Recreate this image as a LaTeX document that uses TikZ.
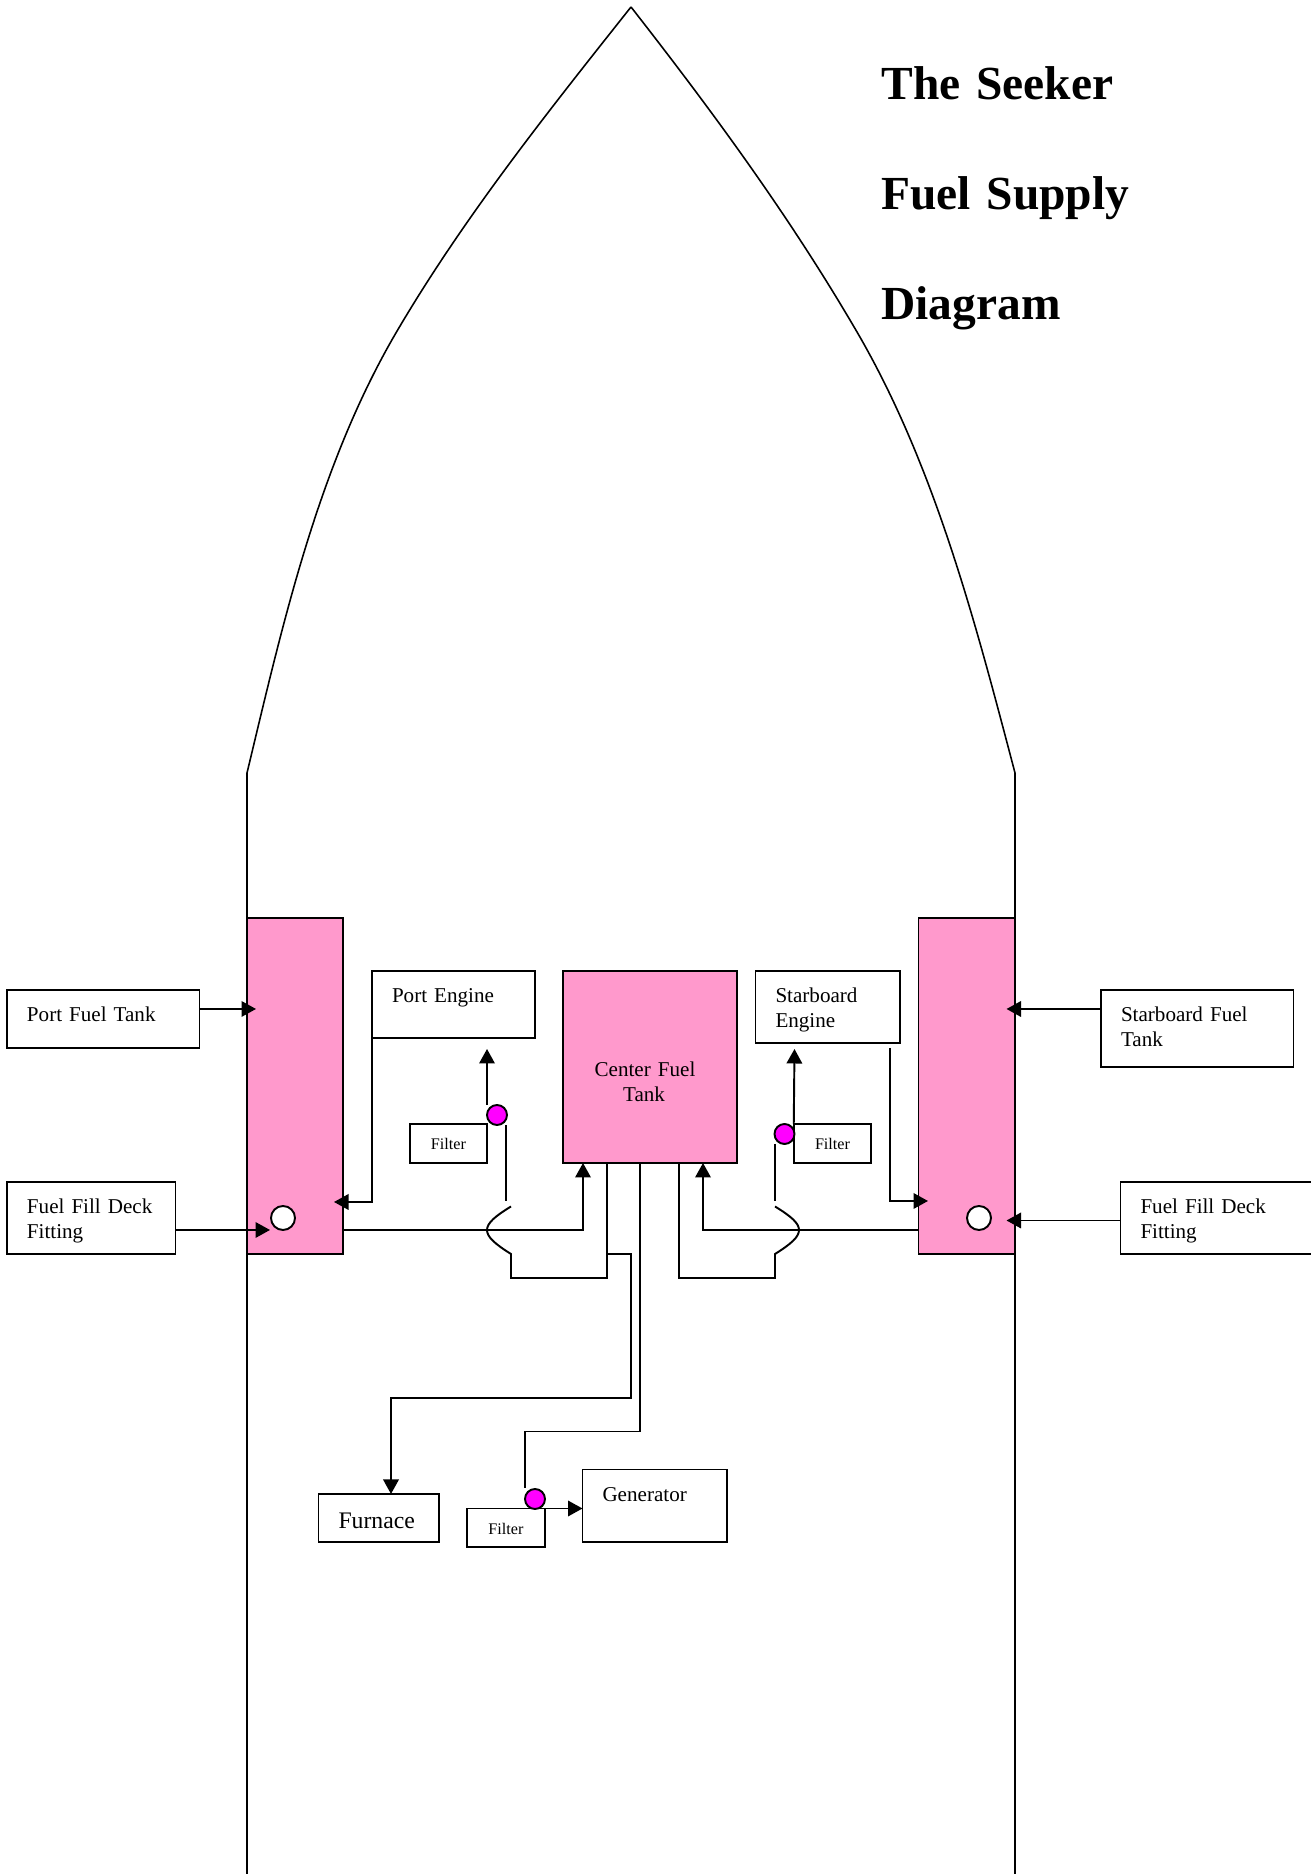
\documentclass[tikz,border=0pt]{standalone}
\usepackage{fontspec}
\setmainfont{Liberation Serif}
\usetikzlibrary{arrows.meta}
\definecolor{tankpink}{HTML}{FF99CC}
\definecolor{valvemagenta}{HTML}{FF00FF}
\tikzset{
	fuelline/.style={line width=1.1pt, >={Triangle[length=.29cm, width=.31cm]}},
	tagbox/.style={draw, fill=white, line width=1.1pt, outer sep=0, inner ysep=0, inner xsep=.4cm, anchor=base west, align=left, font=\fontsize{12}{14.2}\selectfont},
	filterbox/.style={draw, fill=white, line width=1.1pt, outer sep=0, inner sep=0, anchor=base, align=center, text width=1.55cm, text height=.52cm, text depth=.26cm, font=\fontsize{9.2}{11}\selectfont},
	tank/.style={draw, fill=tankpink, line width=1.1pt, outer sep=0, inner sep=0, minimum width=1.92cm, minimum height=6.72cm},
	valve/.style={circle, draw, fill=valvemagenta, line width=1.1pt, inner sep=0, minimum size=.4cm},
	fillcap/.style={circle, draw, fill=white, line width=1.1pt, inner sep=0, minimum size=.48cm}
}
\begin{document}
\begin{tikzpicture}
	\useasboundingbox (0, 0) rectangle (26.22, 37.48);

	\draw[line width=.9pt] (4.94, 0) -- (4.94, 22.02) .. controls (5.66, 25.02) and (6.36, 28.16) .. (7.93, 30.84) .. controls (9.28, 33.14) and (10.97, 35.26) .. (12.62, 37.34);
	\draw[line width=.9pt] (20.3, 0) -- (20.3, 22.02) .. controls (19.51, 25.02) and (18.7, 28.16) .. (17.14, 30.84) .. controls (15.8, 33.14) and (14.26, 35.24) .. (12.62, 37.34);

	\node[anchor=base west, inner sep=0, align=left, text width=8cm, font=\fontsize{27}{62.6}\selectfont\bfseries] (title) at (17.62, 35.48) {The Seeker\\Fuel Supply\\Diagram};

	\node[tank] (porttank) at (5.9, 15.76) {};
	\node[tank, minimum width=1.93cm] (starboardtank) at (19.335, 15.76) {};
	\node[draw, fill=tankpink, line width=1.1pt, outer sep=0, inner sep=0, anchor=base, align=center, text width=3.47cm, text height=2.12cm, text depth=1.72cm, font=\fontsize{12}{14.2}\selectfont] (centertank) at (13, 15.94) {Center Fuel\rule{.2cm}{0pt}\\Tank\rule{.24cm}{0pt}};

	\node[tagbox, text width=3.05cm, text height=.64cm, text depth=.52cm] (portfuel) at (.14, 17.04) {Port Fuel Tank};
	\node[tagbox, text width=2.57cm, text height=.64cm, text depth=.8cm] (portfill) at (.14, 13.2) {Fuel Fill Deck\\Fitting};
	\node[tagbox, text width=2.46cm, text height=.64cm, text depth=.7cm] (portengine) at (7.44, 17.42) {Port Engine};
	\node[tagbox, text width=2.09cm, text height=.64cm, text depth=.8cm] (starboardengine) at (15.11, 17.42) {Starboard\\Engine};
	\node[tagbox, text width=3.05cm, text height=.64cm, text depth=.9cm] (starboardfuel) at (22.02, 17.04) {Starboard Fuel\\Tank};
	\node[tagbox, text width=3.2cm, text height=.64cm, text depth=.8cm] (starboardfill) at (22.41, 13.2) {Fuel Fill Deck\\Fitting};
	\node[tagbox, text width=1.61cm, text height=.7cm, text depth=.26cm, font=\fontsize{13.5}{16}\selectfont] (furnace) at (6.37, 6.9) {Furnace};
	\node[tagbox, text width=2.09cm, text height=.64cm, text depth=.81cm] (generator) at (11.65, 7.45) {Generator};

	\node[filterbox] (portfilter) at (8.97, 14.48) {Filter};
	\node[filterbox] (starboardfilter) at (16.65, 14.48) {Filter};
	\node[filterbox, text height=.53cm, text depth=.24cm] (generatorfilter) at (10.12, 6.78) {Filter};

	\coordinate (porttanktip) at (5.12, 17.3);
	\coordinate (portfilltip) at (5.4, 12.88);
	\coordinate (portreturn) at (6.68, 13.44);
	\coordinate (portmain) at (6.86, 12.88);
	\coordinate (portfeed) at (11.66, 14.22);
	\coordinate (portup) at (9.74, 15.38);
	\coordinate (portuptip) at (9.74, 16.5);
	\coordinate (portdrop) at (10.12, 14.98);
	\coordinate (portgap) at (10.12, 13.46);
	\coordinate (porthoseout) at (12.14, 14.22);
	\coordinate (porthosefoot) at (10.22, 11.92);
	\coordinate (porthoselow) at (10.22, 12.4);
	\coordinate (porthosehigh) at (10.22, 13.35);
	\coordinate (furnacetee) at (12.14, 12.4);
	\coordinate (furnacedrop) at (12.62, 9.52);
	\coordinate (furnacetip) at (7.82, 7.6);
	\coordinate (generatorout) at (12.8, 14.22);
	\coordinate (generatorrun) at (10.5, 8.85);
	\coordinate (generatorend) at (10.5, 7.72);
	\coordinate (starboardtanktip) at (20.13, 17.3);
	\coordinate (starboardfilltip) at (20.13, 13.07);
	\coordinate (starboardreturn) at (17.8, 16.52);
	\coordinate (starboardreturntip) at (18.56, 13.46);
	\coordinate (starboardmain) at (18.37, 12.88);
	\coordinate (starboardfeed) at (14.06, 14.22);
	\coordinate (starboardup) at (15.89, 16.5);
	\coordinate (starboarddrop) at (15.5, 14.6);
	\coordinate (starboardgap) at (15.5, 13.46);
	\coordinate (starboardhoseout) at (13.58, 14.22);
	\coordinate (starboardhosefoot) at (15.5, 11.92);
	\coordinate (starboardhoselow) at (15.5, 12.4);
	\coordinate (starboardhosehigh) at (15.5, 13.35);

	\begin{scope}[fuelline]
		\draw[->] (porttanktip -| portfuel.east) to (porttanktip);
		\draw[->] (portfilltip -| portfill.east) to (portfilltip);
		\draw[->] (portengine.south west) |- (portreturn);
		\draw[->] (portmain) -| (portfeed);
		\draw[->] (portup) to (portuptip);
		\draw (portdrop) to (portgap);
		\draw (porthoseout) |- (porthosefoot) -- (porthoselow) .. controls (9.58, 12.8) and (9.58, 12.96) .. (porthosehigh);
		\draw[->] (furnacetee) -| (furnacedrop) -| (furnacetip);
		\draw (generatorout) |- (generatorrun) -- (generatorend);
		\draw[->] (generatorfilter.north east) to (generatorfilter.north east -| generator.west);

		\draw[->] (starboardtanktip -| starboardfuel.west) to (starboardtanktip);
		\draw[->] (starboardfilltip -| starboardfill.west) to (starboardfilltip);
		\draw[->] (starboardreturn) |- (starboardreturntip);
		\draw[->] (starboardmain) -| (starboardfeed);
		\draw[->] (starboardfilter.north west) to (starboardup);
		\draw (starboarddrop) to (starboardgap);
		\draw (starboardhoseout) |- (starboardhosefoot) -- (starboardhoselow) .. controls (16.14, 12.8) and (16.14, 12.96) .. (starboardhosehigh);
	\end{scope}

	\node[valve] (portvalve) at (9.94, 15.18) {};
	\node[valve] (starboardvalve) at (15.69, 14.8) {};
	\node[valve] (generatorvalve) at (10.7, 7.5) {};
	\node[fillcap] (portcap) at (5.66, 13.12) {};
	\node[fillcap] (starboardcap) at (19.58, 13.12) {};
\end{tikzpicture}
\end{document}
